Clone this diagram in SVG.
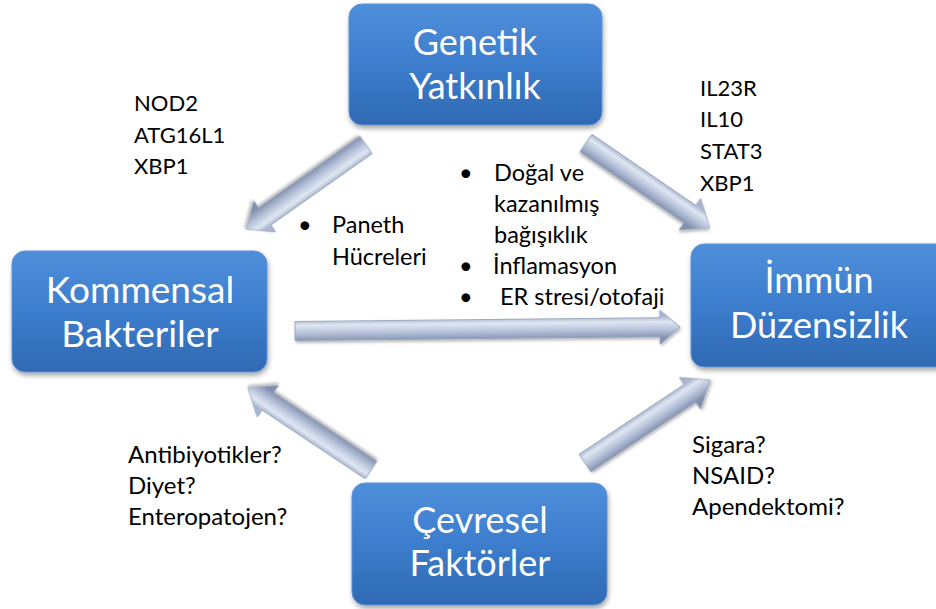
<svg xmlns="http://www.w3.org/2000/svg" width="936" height="609" viewBox="0 0 936 609">
<style>
.box{fill:url(#boxg);stroke:#5b93d8;stroke-width:1;filter:url(#sh)}
.bt{font-family:Lato,"Open Sans",sans-serif;font-size:36px;fill:#fff;text-anchor:middle}
.t{font-family:Lato,"Open Sans",sans-serif;font-size:22px;fill:#000}
.m{font-size:23.5px}
.b{font-size:24px}
.arr{fill:url(#ag);stroke:#8e9cb9;stroke-width:0.8;filter:url(#sh2)}
</style>
<defs>
<linearGradient id="boxg" x1="0" y1="0" x2="0" y2="1">
<stop offset="0" stop-color="#4f8fdb"/>
<stop offset="0.5" stop-color="#3c7dcd"/>
<stop offset="1" stop-color="#2f69b2"/>
</linearGradient>
<linearGradient id="ag" gradientUnits="userSpaceOnUse" x1="0" y1="-11" x2="0" y2="11">
<stop offset="0" stop-color="#a9b6cf"/>
<stop offset="0.25" stop-color="#dfe6f2"/>
<stop offset="0.6" stop-color="#b7c3da"/>
<stop offset="1" stop-color="#8190ae"/>
</linearGradient>
<filter id="sh" x="-10%" y="-10%" width="125%" height="130%">
<feDropShadow dx="1" dy="3" stdDeviation="2.5" flood-color="#000" flood-opacity="0.35"/>
</filter>
<filter id="sh2" x="-10%" y="-30%" width="125%" height="160%">
<feDropShadow dx="1" dy="2" stdDeviation="1.5" flood-color="#000" flood-opacity="0.3"/>
</filter>
</defs>

<g id="connectors">
<polygon class="arr" transform="translate(366,145) rotate(144.8)" points="0,-10.5 124,-10.5 124,-19 146,0 124,19 124,10.5 0,10.5"/>
<polygon class="arr" transform="translate(586,143) rotate(34.4)" points="0,-10.5 126,-10.5 126,-19 150,0 126,19 126,10.5 0,10.5"/>
<polygon class="arr" transform="translate(295,331) rotate(-0.6)" points="0,-9.5 365,-9.5 365,-17 385,0 365,17 365,9.5 0,9.5"/>
<polygon class="arr" transform="translate(371,470) rotate(-146.3)" points="0,-10.5 124,-10.5 124,-19 148,0 124,19 124,10.5 0,10.5"/>
<polygon class="arr" transform="translate(585,463) rotate(-33.6)" points="0,-10.5 126,-10.5 126,-19 150,0 126,19 126,10.5 0,10.5"/>
</g>

<g id="genetik">
<rect class="box" x="349" y="4" width="253" height="121" rx="13"/>
<text class="bt" x="475" y="55">Genetik</text>
<text class="bt" x="475" y="99">Yatkınlık</text>
</g>

<g id="kommensal">
<rect class="box" x="12" y="251" width="255" height="121" rx="13"/>
<text class="bt" x="140" y="303" style="font-size:37px">Kommensal</text>
<text class="bt" x="140" y="347" style="font-size:37px">Bakteriler</text>
</g>

<g id="immun">
<rect class="box" x="691" y="244" width="260" height="123" rx="13"/>
<text class="bt" x="819" y="293">İmmün</text>
<text class="bt" x="819" y="338">Düzensizlik</text>
</g>

<g id="cevresel">
<rect class="box" x="352" y="483" width="255" height="122" rx="13"/>
<text class="bt" x="480" y="533">Çevresel</text>
<text class="bt" x="480" y="576">Faktörler</text>
</g>

<g id="labels">
<text class="t" x="134" y="111">NOD2</text>
<text class="t" x="134" y="143">ATG16L1</text>
<text class="t" x="134" y="174">XBP1</text>

<text class="t" x="700" y="96">IL23R</text>
<text class="t" x="700" y="127">IL10</text>
<text class="t" x="700" y="159">STAT3</text>
<text class="t" x="700" y="191">XBP1</text>

<text class="t m" x="298" y="233">•</text>
<text class="t m" x="332" y="233">Paneth</text>
<text class="t m" x="332" y="265">Hücreleri</text>

<text class="t m" x="459" y="181">•</text>
<text class="t m" x="494" y="181">Doğal ve</text>
<text class="t m" x="494" y="212">kazanılmış</text>
<text class="t m" x="494" y="243">bağışıklık</text>
<text class="t m" x="459" y="274">•</text>
<text class="t m" x="493" y="274">İnflamasyon</text>
<text class="t m" x="459" y="305">•</text>
<text class="t m" x="500" y="305">ER stresi/otofaji</text>

<text class="t b" x="128" y="463">Antibiyotikler?</text>
<text class="t b" x="128" y="494">Diyet?</text>
<text class="t b" x="128" y="525">Enteropatojen?</text>

<text class="t b" x="692" y="453">Sigara?</text>
<text class="t b" x="692" y="484">NSAID?</text>
<text class="t b" x="692" y="515">Apendektomi?</text>
</g>
</svg>
